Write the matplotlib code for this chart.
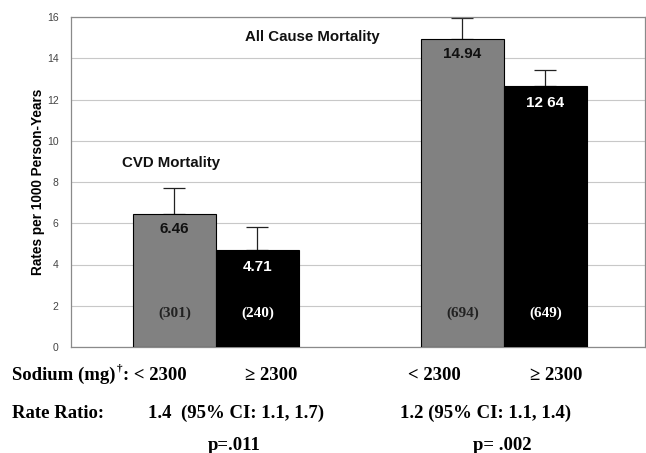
import matplotlib.pyplot as plt
import numpy as np

# data
groups = ['CVD Mortality', 'All Cause Mortality']
low_rates = [6.46, 14.94]      # sodium < 2300
high_rates = [4.71, 12.64]     # sodium >= 2300
low_upper = [7.72, 15.95]      # upper end of the error bars
high_upper = [5.80, 13.45]
low_labels = ['6.46', '14.94']
high_labels = ['4.71', '12 64']
low_counts = ['(301)', '(694)']
high_counts = ['(240)', '(649)']
yticks = [0, 2, 4, 6, 8, 10, 12, 14, 16]

W, H = 646, 453
fig = plt.figure(figsize=(W / 100, H / 100), dpi=100)
ax = fig.add_axes([71 / W, 1 - 347 / H, (645 - 71) / W, (347 - 17) / H])

sans = 'Liberation Sans'
serif = 'Liberation Serif'

x = np.array([1.0, 2.0])
bw = 0.288
low_x = x - bw / 2
high_x = x + bw / 2

ax.bar(low_x, low_rates, bw, color='#818181', edgecolor='black', linewidth=0.8, zorder=3)
ax.bar(high_x, high_rates, bw, color='black', edgecolor='black', linewidth=0.8, zorder=3)

low_err = np.array(low_upper) - np.array(low_rates)
high_err = np.array(high_upper) - np.array(high_rates)
ax.errorbar(low_x, low_rates, yerr=[np.zeros(2), low_err], fmt='none',
            ecolor='#222222', elinewidth=0.9, capsize=8, capthick=0.9, zorder=2)
ax.errorbar(high_x, high_rates, yerr=[np.zeros(2), high_err], fmt='none',
            ecolor='#222222', elinewidth=0.9, capsize=8, capthick=0.9, zorder=2)

for i in range(2):
    ax.annotate(low_labels[i], (low_x[i], low_rates[i]), xytext=(0, -11),
                textcoords='offset points', ha='center', va='center',
                fontsize=11, fontweight='bold', family=sans, color='#111111', zorder=4)
    ax.annotate(high_labels[i], (high_x[i], high_rates[i]), xytext=(0, -12),
                textcoords='offset points', ha='center', va='center',
                fontsize=11, fontweight='bold', family=sans, color='white', zorder=4)
    ax.text(low_x[i], 1.65, low_counts[i], ha='center', va='center',
            fontsize=11, fontweight='bold', family=serif, color='#222222', zorder=4)
    ax.text(high_x[i], 1.65, high_counts[i], ha='center', va='center',
            fontsize=11, fontweight='bold', family=serif, color='white', zorder=4)

ax.text(0.844, 8.92, groups[0], ha='center', va='center', fontsize=10.8,
        fontweight='bold', family=sans, color='#111111')
ax.text(1.336, 15.03, groups[1], ha='center', va='center', fontsize=10.8,
        fontweight='bold', family=sans, color='#111111')

ax.set_xlim(0.497, 2.49)
ax.set_ylim(0, 16)
ax.set_yticks(yticks)
ax.set_xticks([])
ax.tick_params(axis='y', length=0, labelsize=7.5, labelcolor='#444444', pad=9)
for lab in ax.get_yticklabels():
    lab.set_family(sans)
ax.yaxis.grid(True, color='#c8c8c8', linewidth=0.8, zorder=0)
ax.set_axisbelow(True)
for s in ax.spines.values():
    s.set_color('#8a8a8a')
    s.set_linewidth(0.9)
ax.set_ylabel('Rates per 1000 Person-Years', fontsize=9.8, fontweight='bold',
              family=sans, va='center')
ax.yaxis.set_label_coords((38 - 71) / 574, 0.5)


def ftext(px, py, s, size=13.5, ha='left'):
    return fig.text(px / W, 1 - py / H, s, fontsize=size, fontweight='bold',
                    family=serif, va='baseline', ha=ha)


t1 = ftext(12, 380, 'Sodium (mg)')
fig.canvas.draw()
end = t1.get_window_extent().x1
t2 = ftext(end + 1, 371, '\u2020', size=8)
fig.canvas.draw()
end = t2.get_window_extent().x1
ftext(end + 1, 380, ': < 2300')
ftext(245, 380, '\u2265 2300')
ftext(408, 380, '< 2300')
ftext(530, 380, '\u2265 2300')
ftext(12, 418, 'Rate Ratio:')
ftext(148, 418, '1.4  (95% CI: 1.1, 1.7)')
ftext(400, 418, '1.2 (95% CI: 1.1, 1.4)')
ftext(208, 450, 'p=.011')
ftext(473, 450, 'p= .002')

fig.savefig('out.png', dpi=100)
